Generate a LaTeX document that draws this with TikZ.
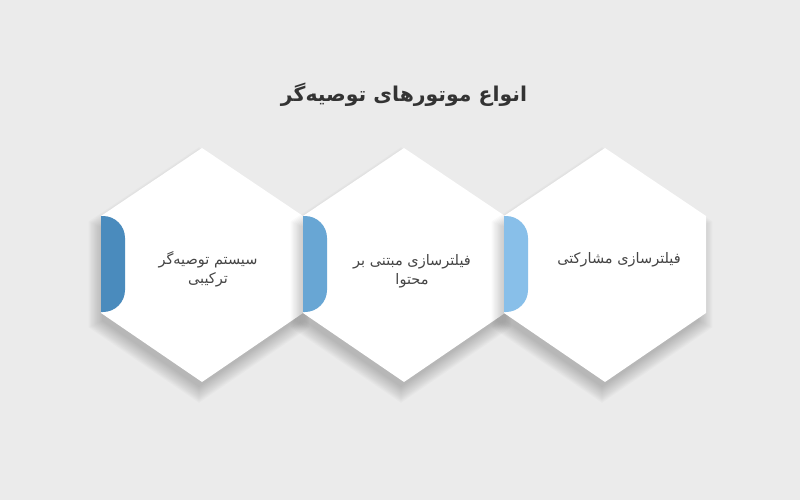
\documentclass[tikz,border=0pt]{standalone}
\usepackage{fontspec}
\newfontfamily\arabicfont[Script=Arabic]{DejaVu Sans}
\TeXXeTstate=1
\usetikzlibrary{calc,positioning}

\definecolor{bggray}{HTML}{EBEBEB}
\definecolor{titlegray}{HTML}{333333}
\definecolor{textgray}{HTML}{454545}
\definecolor{shadowgray}{HTML}{303030}
\definecolor{tabdark}{HTML}{4A8BBD}
\definecolor{tabmid}{HTML}{68A6D4}
\definecolor{tablight}{HTML}{88BFE9}

\newcommand\hexoutline{(0,-117) -- (101,-49) -- (101,48) -- (0,117) -- (-101,48) -- (-101,-49) -- cycle}

\begin{document}
\begin{tikzpicture}[
    x=1pt, y=-1pt,
    card/.style={fill=white},
    haze/.style={fill=shadowgray, opacity=.022},
    tab/.style={rounded corners=22pt},
    heading/.style={font=\arabicfont\bfseries\fontsize{20.4}{24}\selectfont,
        text=titlegray},
    label/.style={font=\arabicfont\fontsize{14.5}{19}\selectfont,
        text=textgray,
        align=center},
    ]

    \fill[bggray] (0,0) rectangle (800,500);
    \useasboundingbox (0,0) rectangle (800,500);

    \node[heading] (title) at (404,95) {\beginR انواع موتورهای توصیه‌گر\endR};

    % hexagon cards, left to right
    \foreach \cx/\col/\nm in {202/tabdark/hybrid, 404/tabmid/content, 605/tablight/collab} {
        \coordinate (\nm) at (\cx,265);
        \foreach \k in {0,...,11}
            \fill[haze, shift={(\cx-3,275)}, scale=0.96+\k*0.012] \hexoutline;
        \fill[card, shift={(\cx,265)}] \hexoutline;
        \fill[\col, tab] (\cx-101,216) -- (\cx-77,216) -- (\cx-77,312) -- (\cx-101,312);
    }

    \node[label] (hybridtext) at ($(hybrid)+(6,4)$)
        {\beginR سیستم توصیه‌گر\endR\\\beginR ترکیبی\endR};
    \node[label] (contenttext) at ($(content)+(8,6)$)
        {\beginR فیلترسازی مبتنی بر\endR\\\beginR محتوا\endR};
    \node[label] (collabtext) at ($(collab)+(14,-5)$)
        {\beginR فیلترسازی مشارکتی\endR};
\end{tikzpicture}
\end{document}
